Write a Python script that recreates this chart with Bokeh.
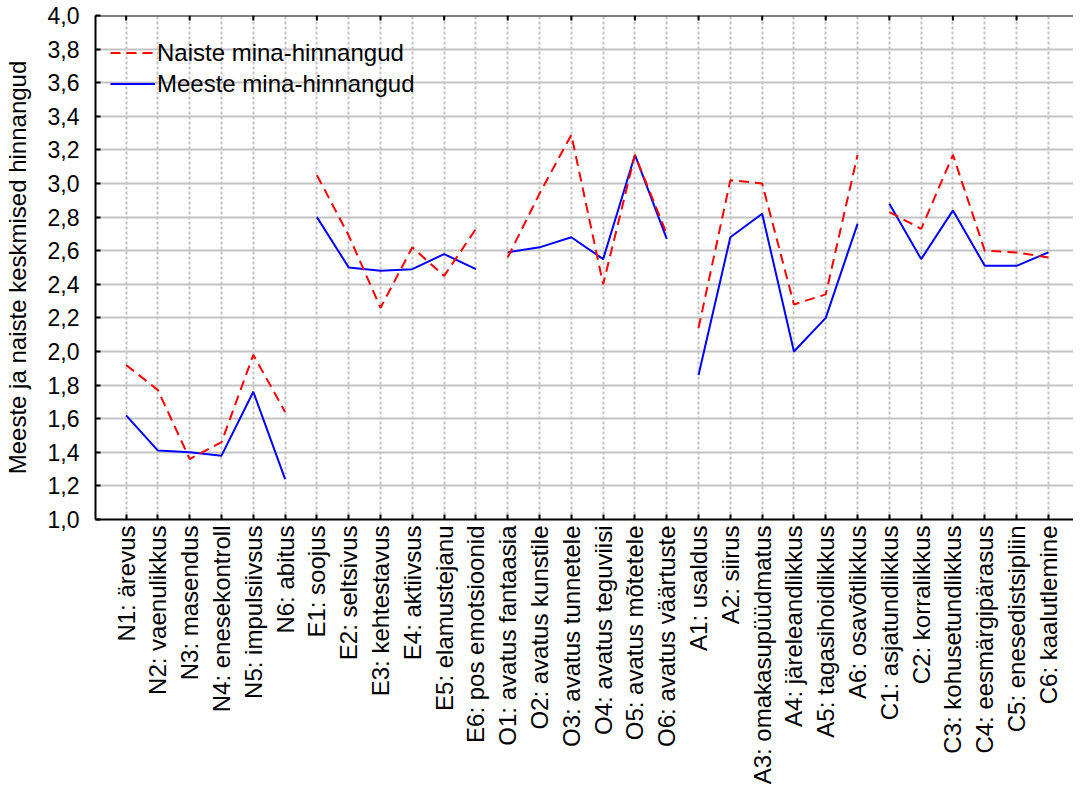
import math
from bokeh.plotting import figure
from bokeh.models import FixedTicker, Legend, LegendItem, Range1d, Span
from bokeh.embed import file_html
from bokeh.resources import INLINE

categories = [
    "N1: ärevus", "N2: vaenulikkus", "N3: masendus", "N4: enesekontroll", "N5: impulsiivsus", "N6: abitus",
    "E1: soojus", "E2: seltsivus", "E3: kehtestavus", "E4: aktiivsus", "E5: elamustejanu", "E6: pos emotsioonid",
    "O1: avatus fantaasia", "O2: avatus kunstile", "O3: avatus tunnetele", "O4: avatus teguviisi", "O5: avatus mõtetele", "O6: avatus väärtuste",
    "A1: usaldus", "A2: siirus", "A3: omakasupüüdmatus", "A4: järeleandlikkus", "A5: tagasihoidlikkus", "A6: osavõtlikkus",
    "C1: asjatundlikkus", "C2: korralikkus", "C3: kohusetundlikkus", "C4: eesmärgipärasus", "C5: enesedistsipliin", "C6: kaalutlemine",
]

naiste = [
    1.92, 1.77, 1.36, 1.46, 1.98, 1.64,
    3.05, 2.69, 2.26, 2.62, 2.45, 2.73,
    2.56, 2.94, 3.29, 2.40, 3.17, 2.70,
    2.14, 3.02, 3.00, 2.28, 2.34, 3.17,
    2.83, 2.73, 3.17, 2.60, 2.59, 2.56,
]

meeste = [
    1.62, 1.41, 1.40, 1.38, 1.76, 1.24,
    2.80, 2.50, 2.48, 2.49, 2.58, 2.49,
    2.59, 2.62, 2.68, 2.55, 3.17, 2.67,
    1.86, 2.68, 2.82, 2.00, 2.20, 2.76,
    2.88, 2.55, 2.84, 2.51, 2.51, 2.59,
]

series_names = ["Naiste mina-hinnangud", "Meeste mina-hinnangud"]
y_ticks = [1.0, 1.2, 1.4, 1.6, 1.8, 2.0, 2.2, 2.4, 2.6, 2.8, 3.0, 3.2, 3.4, 3.6, 3.8, 4.0]
y_tick_labels = ["1,0", "1,2", "1,4", "1,6", "1,8", "2,0", "2,2", "2,4", "2,6", "2,8",
                 "3,0", "3,2", "3,4", "3,6", "3,8", "4,0"]
y_title = "Meeste ja naiste keskmised hinnangud"
group_size = 6

FONT = "Liberation Sans"
xs = list(range(1, len(categories) + 1))

p = figure(width=1073, height=787,
           x_range=Range1d(0.0376, 30.79), y_range=Range1d(y_ticks[0], y_ticks[-1]),
           output_backend="svg", toolbar_location=None,
           min_border_left=92, min_border_right=0, min_border_top=15, min_border_bottom=268)
p.outline_line_color = None
p.background_fill_color = "white"
p.border_fill_color = "white"

# grids
p.xgrid.ticker = FixedTicker(ticks=xs)
p.xgrid.grid_line_color = "#c4c4c4"
p.xgrid.grid_line_width = 2
p.xgrid.grid_line_dash = "3 2"
p.ygrid.ticker = FixedTicker(ticks=y_ticks)
p.ygrid.grid_line_color = "#c4c4c4"
p.ygrid.grid_line_width = 2

# bottom axis
xa = p.xaxis[0]
xa.ticker = FixedTicker(ticks=xs)
xa.major_label_overrides = {x: c for x, c in zip(xs, categories)}
xa.major_label_orientation = math.pi / 2
xa.major_label_text_font = FONT
xa.major_label_text_font_size = "24px"
xa.major_label_text_color = "black"
xa.major_label_standoff = 6
xa.major_tick_in = 5
xa.major_tick_out = 0
xa.minor_tick_line_color = None
xa.major_tick_line_width = 2
xa.axis_line_width = 2
xa.axis_line_color = "black"
xa.major_tick_line_color = "black"

# left axis
ya = p.yaxis[0]
ya.ticker = FixedTicker(ticks=y_ticks)
ya.major_label_overrides = {t: l for t, l in zip(y_ticks, y_tick_labels)}
ya.major_label_text_font = FONT
ya.major_label_text_font_size = "23px"
ya.major_label_text_color = "black"
ya.major_label_standoff = 16
ya.major_tick_in = 5
ya.major_tick_out = 0
ya.minor_tick_line_color = None
ya.major_tick_line_width = 2
ya.axis_line_width = 2
ya.axis_line_color = "black"
ya.major_tick_line_color = "black"
ya.axis_label = y_title
ya.axis_label_text_font = FONT
ya.axis_label_text_font_size = "24px"
ya.axis_label_text_font_style = "normal"
ya.axis_label_text_color = "black"
ya.axis_label_standoff = 14

# top frame line with inward ticks at every second category
p.add_layout(Span(location=y_ticks[-1], dimension="width", line_color="black", line_width=2))
top_ticks = xs[::2]
p.segment(x0=top_ticks, y0=[y_ticks[-1]] * len(top_ticks),
          x1=top_ticks, y1=[y_ticks[-1] - 0.03] * len(top_ticks),
          line_color="black", line_width=2)

red_renderers = []
blue_renderers = []
for g in range(0, len(categories), group_size):
    gx = xs[g:g + group_size]
    rb = p.line(gx, meeste[g:g + group_size], line_color="#0000ff", line_width=2)
    blue_renderers.append(rb)
for g in range(0, len(categories), group_size):
    gx = xs[g:g + group_size]
    rr = p.line(gx, naiste[g:g + group_size], line_color="#ff0000", line_width=2, line_dash="10 6")
    red_renderers.append(rr)

legend = Legend(items=[
    LegendItem(label=series_names[0], renderers=[red_renderers[0]]),
    LegendItem(label=series_names[1], renderers=[blue_renderers[0]]),
])
legend.location = (15, 420)
legend.padding = 0
legend.margin = 0
legend.spacing = 0
legend.glyph_width = 45
legend.glyph_height = 31
legend.label_height = 31
legend.label_standoff = 2
legend.label_text_font = FONT
legend.label_text_font_size = "24px"
legend.label_text_color = "black"
legend.background_fill_alpha = 0
legend.border_line_color = None
p.add_layout(legend)

open("out.html", "w").write(file_html(p, INLINE))
